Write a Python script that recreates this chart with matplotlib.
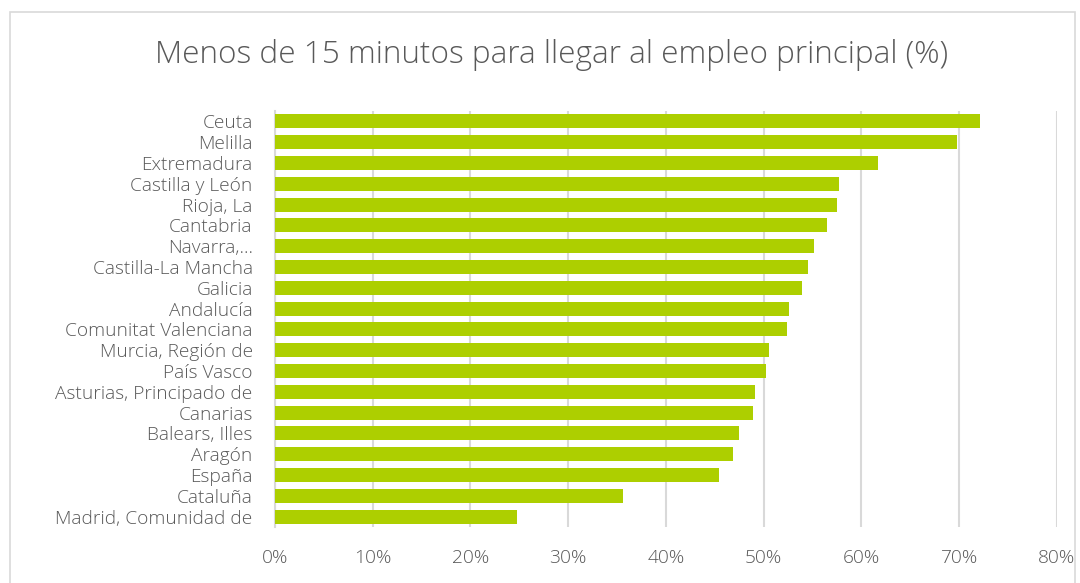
#!/usr/bin/env python3
"""
Menos de 15 minutos para llegar al empleo principal (%), por comunidad autónoma.
"""

import matplotlib
matplotlib.use('Agg')
import matplotlib.pyplot as plt
from matplotlib.patches import Rectangle
from matplotlib.ticker import FuncFormatter

# Regiones, de arriba a abajo como en el gráfico
regions = [
    'Ceuta', 'Melilla', 'Extremadura', 'Castilla y León', 'Rioja, La',
    'Cantabria', 'Navarra,...', 'Castilla-La Mancha', 'Galicia', 'Andalucía',
    'Comunitat Valenciana', 'Murcia, Región de', 'País Vasco',
    'Asturias, Principado de', 'Canarias', 'Balears, Illes', 'Aragón',
    'España', 'Cataluña', 'Madrid, Comunidad de',
]
pct = [
    72.1, 69.8, 61.7, 57.7, 57.5,
    56.5, 55.1, 54.5, 53.9, 52.6,
    52.4, 50.5, 50.2,
    49.1, 48.9, 47.5, 46.9,
    45.4, 35.6, 24.8,
]
x_ticks = [0, 10, 20, 30, 40, 50, 60, 70, 80]

BAR_COLOR = '#ADCF00'
TEXT_COLOR = '#595959'
GRID_COLOR = '#D9D9D9'

plt.rcParams['font.family'] = ['Open Sans', 'DejaVu Sans']

fig = plt.figure(figsize=(10.8, 5.83), dpi=100)
ax = fig.add_axes([0.2546, 0.096, 0.724, 0.7136])

# outer chart frame
fig.patches.append(Rectangle((10 / 1080, -0.05), 1065 / 1080, 1.05 - 12 / 583,
                             transform=fig.transFigure, fill=False,
                             edgecolor='#D9D9D9', linewidth=1.2))

y = list(range(len(regions)))
ax.barh(y, pct, height=0.68, color=BAR_COLOR, zorder=3)

ax.set_ylim(len(regions) - 0.5, -0.5)
ax.set_xlim(0, 80)
ax.set_yticks(y)
ax.set_yticklabels(regions)
ax.set_xticks(x_ticks)
ax.xaxis.set_major_formatter(FuncFormatter(lambda v, _: f'{v:.0f}%'))

ax.grid(axis='x', color=GRID_COLOR, linewidth=1.5, zorder=0)
for side in ['top', 'right', 'bottom']:
    ax.spines[side].set_visible(False)
ax.spines['left'].set_color(GRID_COLOR)
ax.spines['left'].set_linewidth(1.5)

ax.tick_params(axis='both', length=0, colors=TEXT_COLOR, labelsize=13.8)
ax.tick_params(axis='y', pad=16)
ax.tick_params(axis='x', pad=16)
for lbl in ax.get_yticklabels() + ax.get_xticklabels():
    lbl.set_fontweight('light')

fig.text(0.5107, 0.906, 'Menos de 15 minutos para llegar al empleo principal (%)',
         ha='center', va='center', fontsize=22.7, color=TEXT_COLOR, fontweight='light')

plt.savefig('out.png', dpi=100)
